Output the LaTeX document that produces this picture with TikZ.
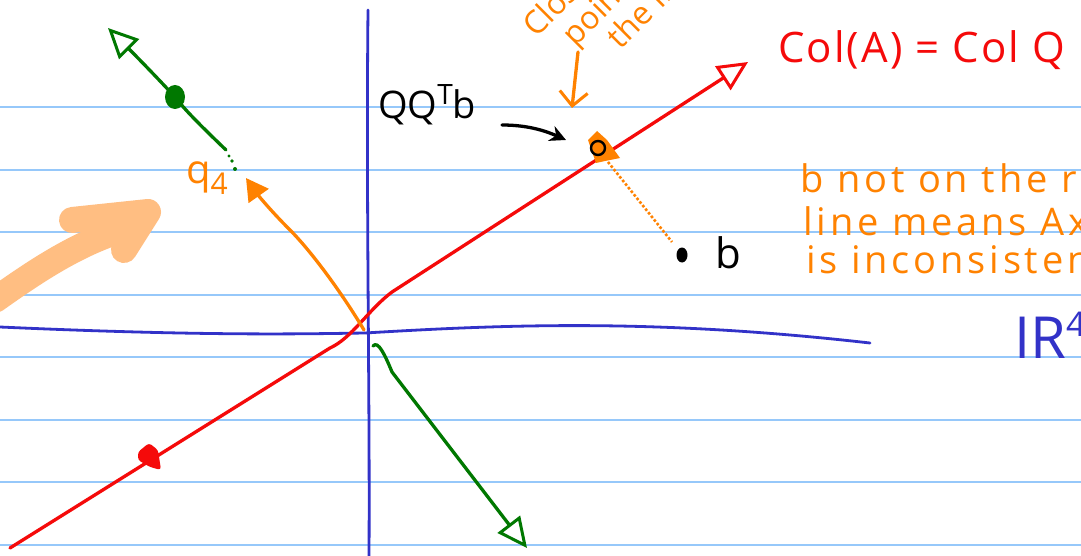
\documentclass[tikz,border=0pt]{standalone}
\usepackage{fontspec}
\setmainfont{Open Sans}
\usetikzlibrary{arrows.meta}

\definecolor{ruleblue}{RGB}{150,200,250}
\definecolor{axisblue}{RGB}{50,50,200}
\definecolor{penred}{RGB}{245,10,10}
\definecolor{penorange}{RGB}{255,130,0}
\definecolor{pengreen}{RGB}{0,120,0}
\definecolor{highlight}{RGB}{255,190,130}

\begin{document}
\begin{tikzpicture}[x=1pt, y=-1pt,
  rule/.style={ruleblue, line width=2pt},
  axis/.style={axisblue, line width=2.8pt, line cap=round},
  pen/.style={line width=3.3pt, line cap=round, line join=round},
  note/.style={inner sep=0pt, anchor=base west},
  opentip/.style={-{Triangle[open, length=30pt, width=28pt, line width=3pt]}}
]
\clip (0,0) rectangle (1081,556);
\fill[white] (0,0) rectangle (1081,556);

% ruled paper
\foreach \yy in {107,170,232,295,357,420,482,545}
  \draw[rule] (0,\yy) -- (1081,\yy);

% axes
\draw[axis] (368,10) .. controls (366,200) and (370,400) .. (369,556);
\draw[axis] (0,327) .. controls (200,336) and (300,334) .. (365,333)
  .. controls (500,325) and (650,318) .. (870,343);

\coordinate (O) at (364,330);

% column space line
\coordinate (colTail) at (10,548);
\coordinate (colTip) at (748,62);
\draw[pen, penred, opentip] (colTail) -- (330,348)
  .. controls (352,338) and (368,310) .. (392,292) -- (colTip);
\fill[penred, rounded corners=3pt] (138,452) -- (149,443) -- (158,450) -- (161,470) -- (150,467) -- (138,460) -- cycle;
\node[note, penred, font=\fontsize{42}{44}\selectfont\addfontfeatures{LetterSpace=5}] (colA) at (778,63) {Col(A) = Col Q};

% q4
\coordinate (q4tip) at (246,178);
\draw[pen, penorange, -{Triangle[length=22pt, width=24pt]}] (O)
  .. controls (340,290) and (310,250) .. (290,230) .. controls (270,210) and (258,195) .. (q4tip);
\node[note, penorange, font=\fontsize{40}{42}\selectfont] (q4) at (186,184) {q\raisebox{-10pt}{\fontsize{30}{32}\selectfont 4}};

% green vector up
\coordinate (gStart) at (226,150);
\coordinate (gTip) at (108,28);
\fill[pengreen] (232,161) circle (1.9pt) (229,156) circle (1.7pt) (235,169) circle (2pt);
\draw[pen, pengreen, opentip] (gStart) .. controls (200,125) and (185,110) .. (175,97)
  .. controls (150,70) and (130,50) .. (gTip);
\fill[pengreen] (175,97) ellipse (10pt and 12pt);

% green vector down
\coordinate (hStart) at (373,346);
\coordinate (hTip) at (527,548);
\draw[pen, pengreen, opentip] (hStart) .. controls (378,340) and (385,355) .. (392,372) -- (hTip);

% highlighter arrow
\draw[highlight, line width=26pt, line cap=round] (-5,300) .. controls (40,268) and (80,242) .. (128,228);
\draw[highlight, line width=26pt, line cap=round, line join=round] (72,220) -- (148,212) -- (124,250);

% projection
\node[note, font=\fontsize{38}{40}\selectfont] (qqtb) at (378,119) {QQ\raisebox{14pt}{\fontsize{28}{30}\selectfont T}b};
\coordinate (proj) at (598,148);
\draw[pen, -{Stealth[length=16pt, width=16pt]}] (502,125) .. controls (530,125) and (548,132) .. (566,140);
\fill[penorange] (588,140) -- (597,131) -- (607,140) -- (620,158) -- (605,161) -- (596,163) -- cycle;
\draw[line width=2.4pt] (proj) circle (7pt);
\coordinate (bpt) at (682,255);
\draw[penorange, line width=2.6pt, dotted] (608,162) -- (672,242);
\fill (bpt) ellipse (5.5pt and 7.5pt);
\node[note, font=\fontsize{42}{44}\selectfont] (blabel) at (715,268) {b};

% closest point note
\node[note, penorange, rotate=45, align=left, font=\fontsize{32}{34}\selectfont] (closest) at (584,87)
  {Closest\\\hspace*{22pt}point on\\\hspace*{52pt}the line};
\coordinate (arrTop) at (578,52);
\coordinate (arrBot) at (572,108);
\draw[pen, penorange, -{Straight Barb[length=14pt, width=28pt, line width=3pt]}] (arrTop) -- (arrBot);

% inconsistent note
\node[note, penorange, font=\fontsize{38}{40}\selectfont\addfontfeatures{LetterSpace=10}] (note1) at (800,193) {b not on the red};
\node[note, penorange, font=\fontsize{38}{40}\selectfont\addfontfeatures{LetterSpace=10}] (note2) at (803,235) {line means Ax=b};
\node[note, penorange, font=\fontsize{38}{40}\selectfont\addfontfeatures{LetterSpace=10}] (note3) at (806,273) {is inconsistent};

% space
\node[note, axisblue, font=\fontsize{58}{60}\selectfont] (Rfour) at (1014,358) {IR\raisebox{22pt}{\fontsize{34}{36}\selectfont 4}};
\end{tikzpicture}
\end{document}
